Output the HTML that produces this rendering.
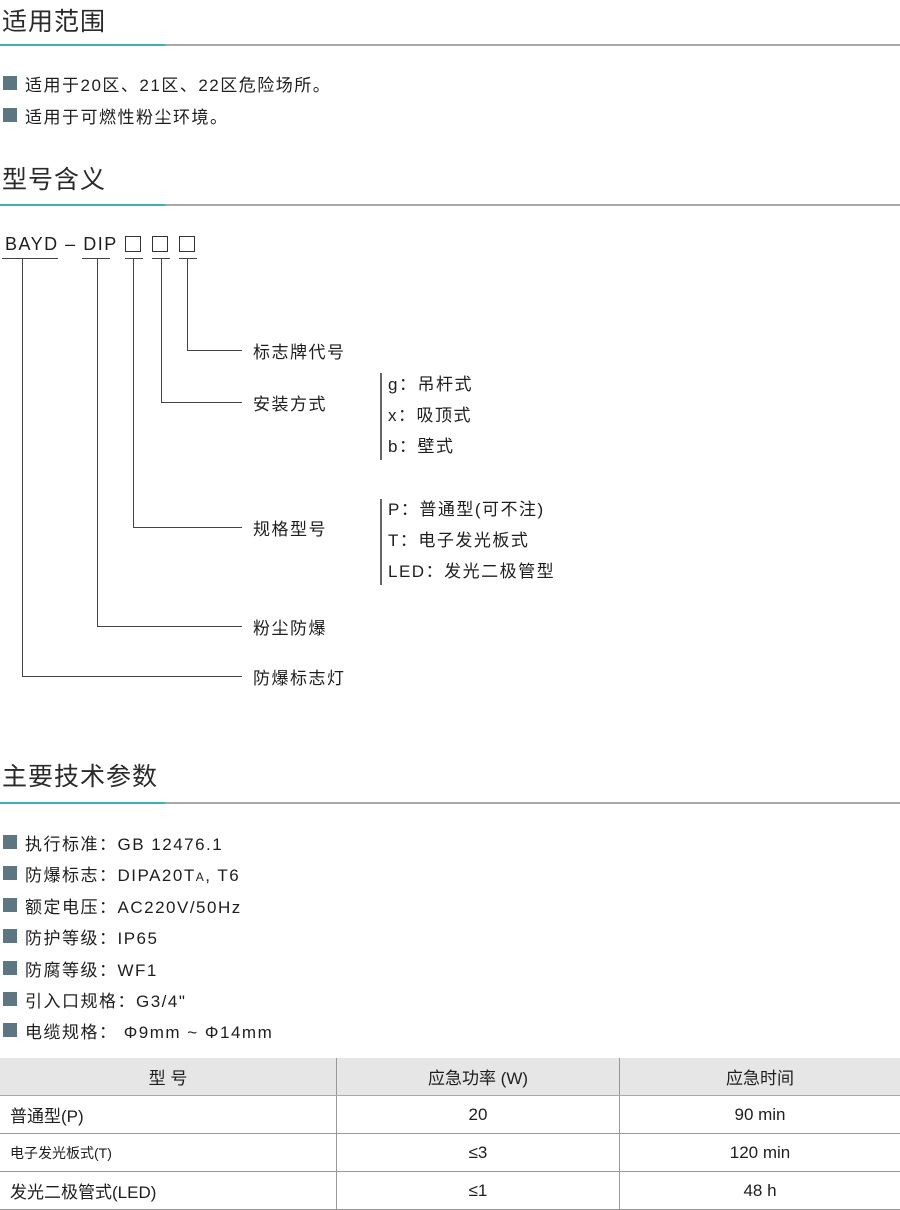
<!DOCTYPE html>
<html><head><meta charset="utf-8"><style>
body{margin:0;width:900px;height:1209px;background:#fff;position:relative;overflow:hidden;font-family:"Liberation Sans","Noto Sans CJK SC",sans-serif;color:#1e1e1e}
.a{position:absolute;white-space:nowrap}
.h{font-size:25px;letter-spacing:1px;color:#2a2a2a}
.rule{position:absolute;left:0;width:900px;height:2px;background:#a8a8a8}
.rule:before{content:"";position:absolute;left:0;top:0;width:165px;height:2px;background:#3fb0ac}
.t{font-size:17px;letter-spacing:1.5px}
.b{position:absolute;width:14px;height:14px;background:#5c7682;left:3px}
.ln{position:absolute;background:#444}
table{position:absolute;left:0;top:1058px;width:900px;border-collapse:collapse;font-size:17px}
td{height:37px;border-bottom:1.5px solid #999;text-align:center;padding:0}
td+td{border-left:1px solid #999}
tr.hd td{background:#e6e6e6;border-bottom:1px solid #aaa}
td.l{text-align:left;padding-left:10px}
</style></head><body>
<div class="a h" style="left:2px;top:2px">适用范围</div>
<div class="rule" style="top:44px"></div>
<div class="b" style="top:76px"></div><div class="a t" style="left:25px;top:71px">适用于20区、21区、22区危险场所。</div>
<div class="b" style="top:108px"></div><div class="a t" style="left:25px;top:103px">适用于可燃性粉尘环境。</div>
<div class="a h" style="left:2px;top:160px">型号含义</div>
<div class="rule" style="top:204px"></div>

<div class="a" style="left:5px;top:234px;font-size:18px;letter-spacing:1.5px">BAYD – DIP</div>
<div class="a" style="left:125px;top:236px;width:14px;height:14px;border:1px solid #333"></div>
<div class="a" style="left:152px;top:236px;width:14px;height:14px;border:1px solid #333"></div>
<div class="a" style="left:179px;top:236px;width:14px;height:14px;border:1px solid #333"></div>
<div class="ln" style="left:2px;top:258px;width:56px;height:1px"></div>
<div class="ln" style="left:82px;top:258px;width:28px;height:1px"></div>
<div class="ln" style="left:125px;top:258px;width:18px;height:1px"></div>
<div class="ln" style="left:152px;top:258px;width:18px;height:1px"></div>
<div class="ln" style="left:179px;top:258px;width:18px;height:1px"></div>
<div class="ln" style="left:22px;top:258px;width:1px;height:418px"></div>
<div class="ln" style="left:22px;top:676px;width:220px;height:1px"></div>
<div class="ln" style="left:97px;top:258px;width:1px;height:368px"></div>
<div class="ln" style="left:97px;top:626px;width:145px;height:1px"></div>
<div class="ln" style="left:133px;top:258px;width:1px;height:269px"></div>
<div class="ln" style="left:133px;top:527px;width:109px;height:1px"></div>
<div class="ln" style="left:161px;top:258px;width:1px;height:144px"></div>
<div class="ln" style="left:161px;top:402px;width:81px;height:1px"></div>
<div class="ln" style="left:187px;top:258px;width:1px;height:92px"></div>
<div class="ln" style="left:187px;top:350px;width:55px;height:1px"></div>
<div class="a t" style="left:253px;top:338px">标志牌代号</div>
<div class="a t" style="left:253px;top:390px">安装方式</div>
<div class="a t" style="left:253px;top:515px">规格型号</div>
<div class="a t" style="left:253px;top:614px">粉尘防爆</div>
<div class="a t" style="left:253px;top:664px">防爆标志灯</div>
<div class="ln" style="left:380px;top:373px;width:1.5px;height:87px;background:#666"></div>
<div class="ln" style="left:380px;top:499px;width:1.5px;height:86px;background:#666"></div>
<div class="a t" style="left:388px;top:370px">g：吊杆式</div>
<div class="a t" style="left:388px;top:401px">x：吸顶式</div>
<div class="a t" style="left:388px;top:432px">b：壁式</div>
<div class="a t" style="left:388px;top:495px">P：普通型(可不注)</div>
<div class="a t" style="left:388px;top:526px">T：电子发光板式</div>
<div class="a t" style="left:388px;top:557px">LED：发光二极管型</div>

<div class="a h" style="left:2px;top:757px">主要技术参数</div>
<div class="rule" style="top:802px"></div>
<div class="b" style="top:835px"></div><div class="a t" style="left:25px;top:830px">执行标准：GB 12476.1</div>
<div class="b" style="top:866px"></div><div class="a t" style="left:25px;top:861px">防爆标志：DIPA20T<span style="font-size:12px">A</span>, T6</div>
<div class="b" style="top:898px"></div><div class="a t" style="left:25px;top:893px">额定电压：AC220V/50Hz</div>
<div class="b" style="top:929px"></div><div class="a t" style="left:25px;top:924px">防护等级：IP65</div>
<div class="b" style="top:961px"></div><div class="a t" style="left:25px;top:956px">防腐等级：WF1</div>
<div class="b" style="top:992px"></div><div class="a t" style="left:25px;top:987px">引入口规格：G3/4"</div>
<div class="b" style="top:1023px"></div><div class="a t" style="left:25px;top:1018px">电缆规格：&nbsp;Φ9mm ~ Φ14mm</div>

<table>
<tr class="hd"><td style="width:336px">型 号</td><td style="width:282px">应急功率 (W)</td><td>应急时间</td></tr>
<tr><td class="l">普通型(P)</td><td>20</td><td>90 min</td></tr>
<tr><td class="l" style="font-size:14px">电子发光板式(T)</td><td>≤3</td><td>120 min</td></tr>
<tr><td class="l">发光二极管式(LED)</td><td>≤1</td><td>48 h</td></tr>
</table>
</body></html>
